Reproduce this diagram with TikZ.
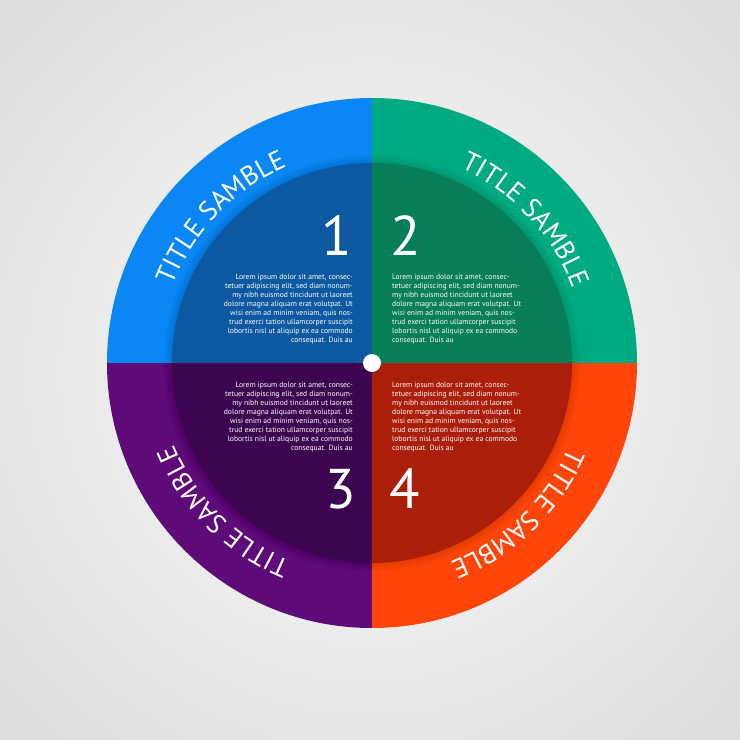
\documentclass[tikz,border=0pt]{standalone}
\usepackage{fontspec}
\setmainfont{PT Sans}
\usetikzlibrary{decorations.text}
\definecolor{BackInClr}{rgb}{0.93,0.93,0.93}
\definecolor{BackOutClr}{rgb}{0.75,0.75,0.76}
\definecolor{BlueOutClr}{rgb}{0.04,0.53,0.96}
\definecolor{BlueInClr}{rgb}{0.05,0.35,0.63}
\definecolor{GreenOutClr}{rgb}{0.00,0.67,0.51}
\definecolor{GreenInClr}{rgb}{0.03,0.49,0.35}
\definecolor{PurpleOutClr}{rgb}{0.37,0.04,0.47}
\definecolor{PurpleInClr}{rgb}{0.24,0.02,0.31}
\definecolor{RedOutClr}{rgb}{1.00,0.27,0.04}
\definecolor{RedInClr}{rgb}{0.67,0.12,0.04}
\pgfdeclareradialshading{backshade}{\pgfpoint{0bp}{0bp}}{color(0bp)=(BackInClr); color(16bp)=(BackInClr); color(68bp)=(BackOutClr)}
\newcommand{\titlefont}{\color{white}\fontsize{27}{30}\selectfont}
\newcommand{\loremtext}{Lorem ipsum dolor sit amet, consec-\\tetuer adipiscing elit, sed diam nonum-\\my nibh euismod tincidunt ut laoreet\\dolore magna aliquam erat volutpat. Ut\\wisi enim ad minim veniam, quis nos-\\trud exerci tation ullamcorper suscipit\\lobortis nisl ut aliquip ex ea commodo\\consequat. Duis au}
\begin{document}
\begin{tikzpicture}[x=1pt,y=1pt,
  num/.style={text=white,inner sep=0pt,font=\fontsize{56}{60}\selectfont},
  para/.style={text=white,inner sep=0pt,font=\fontsize{7.6}{9}\selectfont},
  ttl/.style={decorate,decoration={text along path,text align=center,text={|\titlefont|TITLE SAMBLE}}}]
\useasboundingbox (-372,-377) rectangle (368,363);
\fill[shading=backshade] (-372,-377) rectangle (368,363);

% outer ring
\fill[BlueOutClr] (0,0) -- (90:265pt) arc[start angle=90,end angle=180,radius=265pt] -- cycle;
\fill[GreenOutClr] (0,0) -- (0:265pt) arc[start angle=0,end angle=90,radius=265pt] -- cycle;
\fill[PurpleOutClr] (0,0) -- (180:265pt) arc[start angle=180,end angle=270,radius=265pt] -- cycle;
\fill[RedOutClr] (0,0) -- (270:265pt) arc[start angle=270,end angle=360,radius=265pt] -- cycle;

% soft shadow round the inner disc
\foreach \r in {200,...,209}
  \fill[black,opacity=.013] (0,0) circle (\r pt);

% inner disc
\fill[BlueInClr] (0,0) -- (90:200pt) arc[start angle=90,end angle=180,radius=200pt] -- cycle;
\fill[GreenInClr] (0,0) -- (0:200pt) arc[start angle=0,end angle=90,radius=200pt] -- cycle;
\fill[PurpleInClr] (0,0) -- (180:200pt) arc[start angle=180,end angle=270,radius=200pt] -- cycle;
\fill[RedInClr] (0,0) -- (270:200pt) arc[start angle=270,end angle=360,radius=200pt] -- cycle;

% titles
\path[ttl] (176:214pt) arc[start angle=176,end angle=96,radius=214pt];
\path[ttl] (83:214pt) arc[start angle=83,end angle=3,radius=214pt];
\path[ttl] (265:214pt) arc[start angle=265,end angle=185,radius=214pt];
\path[ttl] (354:214pt) arc[start angle=354,end angle=274,radius=214pt];

\node[num,anchor=base east] (n1) at (-20,108) {1};
\node[num,anchor=base west] (n2) at (18,108) {2};
\node[num,anchor=base east] (n3) at (-16,-145) {3};
\node[num,anchor=base west] (n4) at (17,-145) {4};

\node[para,anchor=north east,align=right] (p1) at (-19,89) {\loremtext};
\node[para,anchor=north west,align=left] (p2) at (20,89) {\loremtext};
\node[para,anchor=north east,align=right] (p3) at (-19,-19) {\loremtext};
\node[para,anchor=north west,align=left] (p4) at (20,-19) {\loremtext};

\node[circle,fill=white,inner sep=0pt,minimum size=18pt] (hub) at (0,0) {};
\end{tikzpicture}
\end{document}
